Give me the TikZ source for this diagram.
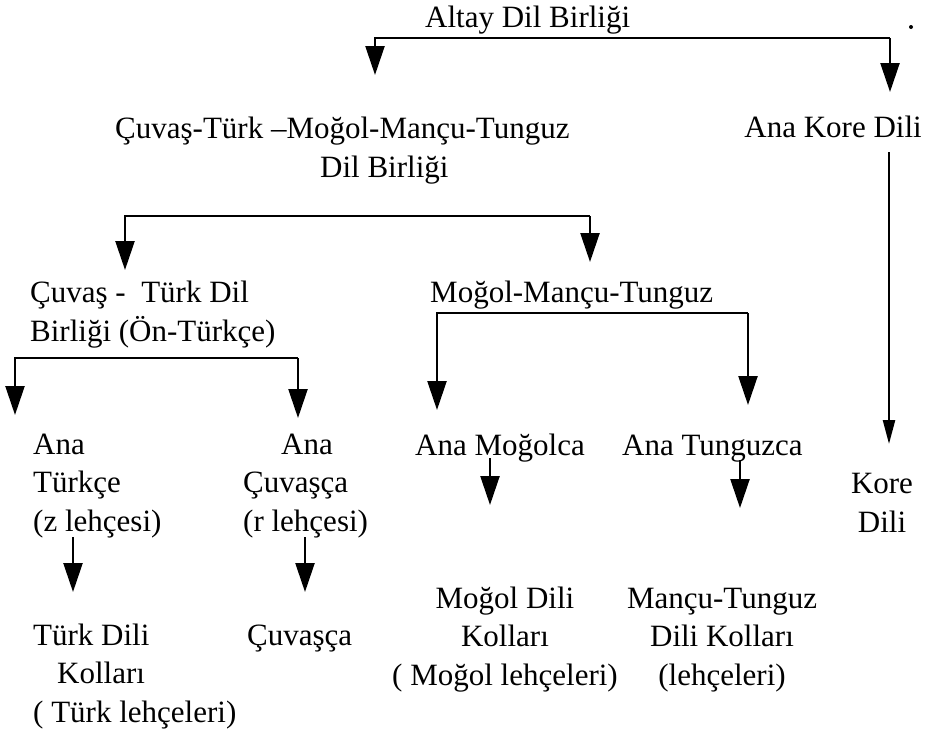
\documentclass[tikz,border=0pt]{standalone}
\usepackage{fontspec}
\setmainfont{Liberation Serif}
\usetikzlibrary{arrows.meta}
\begin{document}
\begin{tikzpicture}[x=1pt,y=-1pt,
  lbl/.style={inner sep=0pt, font=\fontsize{31}{38.5}\selectfont, align=left},
  lblc/.style={lbl, align=center},
  conn/.style={line width=2.4pt, -{Triangle[width=19pt,length=29pt]}},
  thin conn/.style={line width=2.4pt, -{Triangle[width=12pt,length=24pt]}},
]
\useasboundingbox (0,0) rectangle (936,739);
\fill[white] (0,0) rectangle (936,739);

% ---- nodes (multi-line nodes are placed by the baseline of their last line) ----
\node[lbl, anchor=base west] (altay) at (425,27) {Altay Dil Birliği};
\node[lbl, anchor=base west] (ctm) at (115,177) {Çuvaş-Türk –Moğol-Mançu-Tunguz\\\hspace*{205pt}Dil Birliği};
\node[lbl, anchor=base east] (akd) at (922,137) {Ana Kore Dili};
\node[lbl, anchor=base west] (ct) at (30,341) {Çuvaş -\ \ Türk Dil\\Birliği (Ön-Türkçe)};
\node[lbl, anchor=base west] (mmt) at (430,302) {Moğol-Mançu-Tunguz};
\node[lbl, anchor=base west] (atr) at (33,531) {Ana\\Türkçe\\(z lehçesi)};
\node[lbl, anchor=base west] (acv) at (243,531) {\hspace*{38pt}Ana\\Çuvaşça\\(r lehçesi)};
\node[lbl, anchor=base west] (amo) at (415,455) {Ana Moğolca};
\node[lbl, anchor=base west] (atu) at (622,455) {Ana Tunguzca};
\node[lblc, anchor=base] (kd) at (882,532) {Kore\\Dili};
\node[lbl, anchor=base west] (tdk) at (33,722) {Türk Dili\\\hspace*{24pt}Kolları\\( Türk lehçeleri)};
\node[lbl, anchor=base west] (cuv) at (247,645) {Çuvaşça};
\node[lblc, anchor=base] (mdk) at (505,685) {Moğol Dili\\Kolları\\( Moğol lehçeleri)};
\node[lblc, anchor=base] (mtd) at (722,685) {Mançu-Tunguz\\Dili Kolları\\(lehçeleri)};
\fill (911,27) circle (2pt);

% ---- connector points ----
\coordinate (c1r) at (890,38);
\coordinate (t1l) at (375,75);
\coordinate (t1r) at (890,92);
\coordinate (k0) at (889,152);
\coordinate (k1) at (889,444);
\coordinate (c2r) at (590,216);
\coordinate (t2l) at (125,270);
\coordinate (t2r) at (590,262);
\coordinate (c3r) at (298,358);
\coordinate (t3l) at (15,415);
\coordinate (t3r) at (298,418);
\coordinate (c4r) at (748,313);
\coordinate (t4l) at (437,410);
\coordinate (t4r) at (748,405);
\coordinate (s5) at (73,537);  \coordinate (t5) at (73,592);
\coordinate (s6) at (305,537); \coordinate (t6) at (305,592);
\coordinate (s7) at (490,458); \coordinate (t7) at (490,505);
\coordinate (s8) at (740,460); \coordinate (t8) at (740,508);

% ---- connectors ----
\draw[conn] (c1r) -| (t1l);
\draw[conn] (c1r) -- (t1r);
\draw[thin conn] (k0) -- (k1);
\draw[conn] (c2r) -| (t2l);
\draw[conn] (c2r) -- (t2r);
\draw[conn] (c3r) -| (t3l);
\draw[conn] (c3r) -- (t3r);
\draw[conn] (c4r) -| (t4l);
\draw[conn] (c4r) -- (t4r);
\draw[conn] (s5) -- (t5);
\draw[conn] (s6) -- (t6);
\draw[conn] (s7) -- (t7);
\draw[conn] (s8) -- (t8);
\end{tikzpicture}
\end{document}
